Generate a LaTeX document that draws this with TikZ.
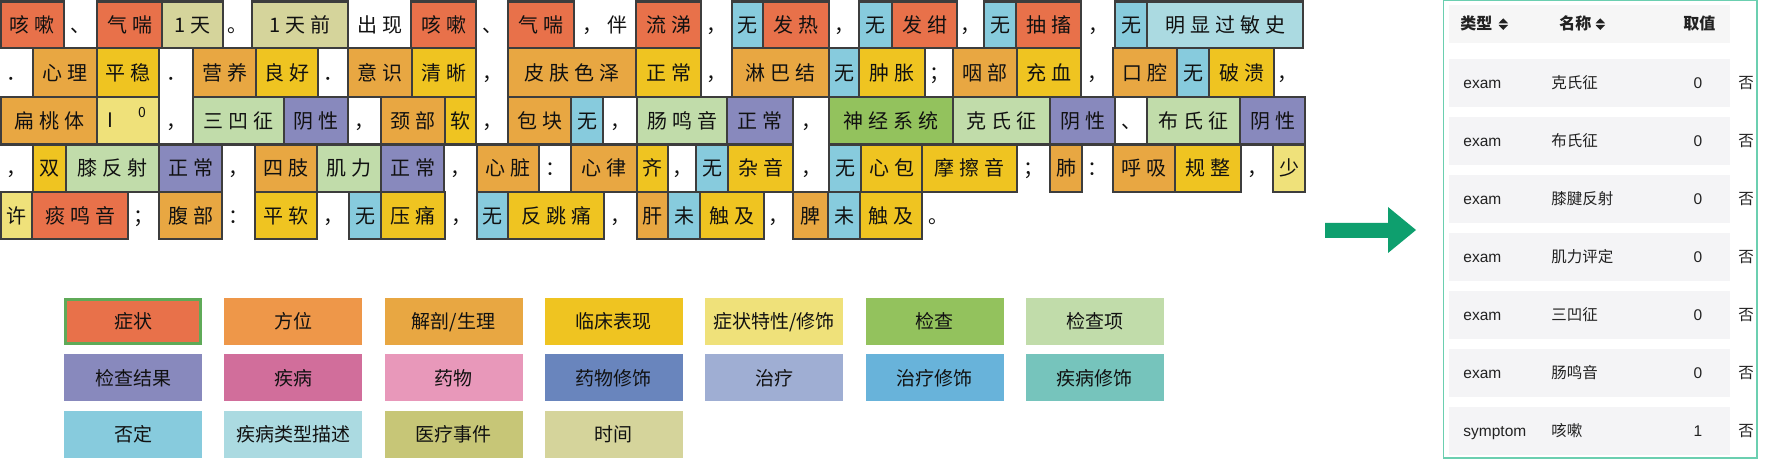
\documentclass[tikz,border=0pt]{standalone}
\usepackage{fontspec}
\setmainfont{Noto Sans CJK SC}
\newfontfamily\latinf{Liberation Sans}
\definecolor{sym}{HTML}{E8714A}
\definecolor{fw}{HTML}{EE9749}
\definecolor{jp}{HTML}{E8A742}
\definecolor{lc}{HTML}{EFC421}
\definecolor{tx}{HTML}{EFE17A}
\definecolor{jc}{HTML}{93C25D}
\definecolor{jcx}{HTML}{C1DCAA}
\definecolor{jg}{HTML}{8889BD}
\definecolor{jb}{HTML}{D16E9B}
\definecolor{yw}{HTML}{E898BA}
\definecolor{ywx}{HTML}{6985BD}
\definecolor{zl}{HTML}{9FAED3}
\definecolor{zlx}{HTML}{68B3DA}
\definecolor{jbx}{HTML}{76C4BC}
\definecolor{fd}{HTML}{87CBDD}
\definecolor{lx}{HTML}{ABDAE1}
\definecolor{sjj}{HTML}{C7C677}
\definecolor{sj}{HTML}{D5D49B}
\definecolor{bordc}{HTML}{3D3D3D}
\definecolor{txt}{HTML}{111111}
\definecolor{legg}{HTML}{5FAA58}
\definecolor{panelc}{HTML}{6BCFB0}
\definecolor{rowg}{HTML}{F4F4F6}
\definecolor{headg}{HTML}{F6F6F6}
\definecolor{arrowg}{HTML}{0E9F6E}
\definecolor{ptxt}{HTML}{222222}
\newcounter{cellc}
\newlength\charsp
\setlength\charsp{2.5pt}
\ExplSyntaxOn
\NewDocumentCommand\spacedtext{m}{\tl_map_inline:nn{#1}{##1\kern\charsp}\unkern}
\ExplSyntaxOff
\def\rtA{1.5}\def\rbA{48}
\def\rtB{48}\def\rbB{97}
\def\rtC{97}\def\rbC{144.5}
\def\rtD{144.5}\def\rbD{192}
\def\rtE{192}\def\rbE{239}
\tikzset{
  tokfont/.style={font=\fontsize{10pt}{12pt}\selectfont, text=txt, text height=8.4pt, text depth=0.8pt, inner sep=0pt},
  tagbox/.style={tokfont, rectangle, draw=bordc, line width=1.15pt},
  legbox/.style={rectangle, font=\fontsize{9.5pt}{11pt}\selectfont, text=txt, text height=8pt, text depth=0.8pt, inner sep=0pt, minimum width=69pt, minimum height=23.5pt},
  rowbg/.style={rectangle, fill=rowg, inner sep=0pt, minimum width=140.5pt},
  ptext/.style={font=\fontsize{7.75pt}{9pt}\selectfont, text=ptxt, inner sep=0pt, anchor=base},
  phead/.style={font=\fontsize{8pt}{9pt}\selectfont\bfseries, text=ptxt, inner sep=0pt, anchor=base west},
}
\newcommand\tagcell[5]{%
  \stepcounter{cellc}%
  \node[tagbox, fill=#4, minimum width={(#3-#2)*0.5pt}, minimum height={(\csname rb#1\endcsname-\csname rt#1\endcsname)*0.5pt}] (c\arabic{cellc}) at ({(#2+#3)/2},{(\csname rt#1\endcsname+\csname rb#1\endcsname)/2}) {\spacedtext{#5}};}
\newcommand\plaincell[4]{%
  \stepcounter{cellc}%
  \node[tokfont] (p\arabic{cellc}) at ({(#2+#3)/2},{(\csname rt#1\endcsname+\csname rb#1\endcsname)/2}) {\spacedtext{#4}};}
\newcommand\legitem[4]{%
  \stepcounter{cellc}%
  \node[legbox, fill=#3] (l\arabic{cellc}) at ({133+(#1-1)*160.3},{321.5+(#2-1)*56.5}) {#4};}
\newcommand\prow[5]{%
  \stepcounter{cellc}%
  \node[rowbg, minimum height={(#2-#1)*0.5pt}] (rb\arabic{cellc}) at (1589.5,{(#1+#2)/2}) {};
  \node[ptext, anchor=base west] (ra\arabic{cellc}) at (1463,{(#1+#2)/2+5.9}) {\latinf #3};
  \node[ptext, anchor=base west] (rn\arabic{cellc}) at (1551,{(#1+#2)/2+5.9}) {#4};
  \node[ptext] (rv\arabic{cellc}) at (1698,{(#1+#2)/2+5.9}) {\latinf #5};
  \node[ptext] (rf\arabic{cellc}) at (1746,{(#1+#2)/2+5.9}) {否};}
\begin{document}
\begin{tikzpicture}[x=0.5pt, y=-0.5pt]
\useasboundingbox (0,0) rectangle (1771,459);
\fill[white] (0,0) rectangle (1771,459);
% ---- row A
\tagcell{A}{1}{64}{sym}{咳嗽}
\plaincell{A}{64}{97}{、}
\tagcell{A}{97}{162}{sym}{气喘}
\tagcell{A}{162}{223}{sj}{1天}
\plaincell{A}{223}{252}{。}
\tagcell{A}{252}{348}{sj}{1天前}
\plaincell{A}{348}{411}{出现}
\tagcell{A}{411}{476}{sym}{咳嗽}
\plaincell{A}{476}{508}{、}
\tagcell{A}{508}{574}{sym}{气喘}
\plaincell{A}{574}{636}{，伴}
\tagcell{A}{636}{701}{sym}{流涕}
\plaincell{A}{701}{732}{，}
\tagcell{A}{732}{763}{fd}{无}
\tagcell{A}{763}{829}{sym}{发热}
\plaincell{A}{829}{859}{，}
\tagcell{A}{859}{892}{fd}{无}
\tagcell{A}{892}{957}{sym}{发绀}
\plaincell{A}{957}{984}{，}
\tagcell{A}{984}{1016}{fd}{无}
\tagcell{A}{1016}{1081}{sym}{抽搐}
\plaincell{A}{1081}{1115}{，}
\tagcell{A}{1115}{1147}{fd}{无}
\tagcell{A}{1147}{1303}{lx}{明显过敏史}
% ---- row B
\plaincell{B}{0}{33}{．}
\tagcell{B}{33}{97}{jp}{心理}
\tagcell{B}{97}{159}{lc}{平稳}
\plaincell{B}{159}{193}{．}
\tagcell{B}{193}{256}{jp}{营养}
\tagcell{B}{256}{318}{lc}{良好}
\plaincell{B}{318}{348}{．}
\tagcell{B}{348}{412}{jp}{意识}
\tagcell{B}{412}{476}{lc}{清晰}
\plaincell{B}{476}{508}{，}
\tagcell{B}{508}{636}{jp}{皮肤色泽}
\tagcell{B}{636}{701}{lc}{正常}
\plaincell{B}{701}{732}{，}
\tagcell{B}{732}{829}{jp}{淋巴结}
\tagcell{B}{829}{859}{fd}{无}
\tagcell{B}{859}{925}{lc}{肿胀}
\plaincell{B}{925}{953}{；}
\tagcell{B}{953}{1017}{jp}{咽部}
\tagcell{B}{1017}{1081}{lc}{充血}
\plaincell{B}{1081}{1113}{，}
\tagcell{B}{1113}{1177}{jp}{口腔}
\tagcell{B}{1177}{1209}{fd}{无}
\tagcell{B}{1209}{1274}{lc}{破溃}
\plaincell{B}{1274}{1300}{，}
% ---- row C
\tagcell{C}{1}{97}{jp}{扁桃体}
\tagcell{C}{97}{159}{tx}{}
\node[tokfont, anchor=base] (roman1) at (110.5,127.5) {I};
\node[font=\fontsize{7pt}{8pt}\selectfont, text=txt, inner sep=0pt, anchor=base] (sup0) at (142,118) {0};
\plaincell{C}{159}{193}{，}
\tagcell{C}{193}{284}{jcx}{三凹征}
\tagcell{C}{284}{348}{jg}{阴性}
\plaincell{C}{348}{381}{，}
\tagcell{C}{381}{445}{jp}{颈部}
\tagcell{C}{445}{476}{lc}{软}
\plaincell{C}{476}{508}{，}
\tagcell{C}{508}{571}{jp}{包块}
\tagcell{C}{571}{603}{fd}{无}
\plaincell{C}{603}{637}{，}
\tagcell{C}{637}{727}{jcx}{肠鸣音}
\tagcell{C}{727}{793}{jg}{正常}
\plaincell{C}{793}{829}{，}
\tagcell{C}{829}{953}{jc}{神经系统}
\tagcell{C}{953}{1050}{jcx}{克氏征}
\tagcell{C}{1050}{1115}{jg}{阴性}
\plaincell{C}{1115}{1147}{、}
\tagcell{C}{1147}{1240}{jcx}{布氏征}
\tagcell{C}{1240}{1305}{jg}{阴性}
% ---- row D
\plaincell{D}{0}{33}{，}
\tagcell{D}{33}{66}{lc}{双}
\tagcell{D}{66}{159}{jcx}{膝反射}
\tagcell{D}{159}{222}{jg}{正常}
\plaincell{D}{222}{255}{，}
\tagcell{D}{255}{317}{jp}{四肢}
\tagcell{D}{317}{381}{jcx}{肌力}
\tagcell{D}{381}{444}{jg}{正常}
\plaincell{D}{444}{477}{，}
\tagcell{D}{477}{539}{jp}{心脏}
\plaincell{D}{539}{571}{：}
\tagcell{D}{571}{637}{jp}{心律}
\tagcell{D}{637}{668}{lc}{齐}
\plaincell{D}{668}{696}{，}
\tagcell{D}{696}{728}{fd}{无}
\tagcell{D}{728}{793}{lc}{杂音}
\plaincell{D}{793}{829}{，}
\tagcell{D}{829}{861}{fd}{无}
\tagcell{D}{861}{922}{lc}{心包}
\tagcell{D}{922}{1017}{lc}{摩擦音}
\plaincell{D}{1017}{1050}{；}
\tagcell{D}{1050}{1082}{jp}{肺}
\plaincell{D}{1082}{1113}{：}
\tagcell{D}{1113}{1175}{jp}{呼吸}
\tagcell{D}{1175}{1241}{lc}{规整}
\plaincell{D}{1241}{1273}{，}
\tagcell{D}{1273}{1305}{tx}{少}
% ---- row E
\tagcell{E}{1}{32}{tx}{许}
\tagcell{E}{32}{128}{sym}{痰鸣音}
\plaincell{E}{128}{159}{；}
\tagcell{E}{159}{222}{jp}{腹部}
\plaincell{E}{222}{255}{：}
\tagcell{E}{255}{317}{lc}{平软}
\plaincell{E}{317}{349}{，}
\tagcell{E}{349}{381}{fd}{无}
\tagcell{E}{381}{445}{lc}{压痛}
\plaincell{E}{445}{477}{，}
\tagcell{E}{477}{508}{fd}{无}
\tagcell{E}{508}{604}{lc}{反跳痛}
\plaincell{E}{604}{637}{，}
\tagcell{E}{637}{668}{jp}{肝}
\tagcell{E}{668}{700}{fd}{未}
\tagcell{E}{700}{764}{lc}{触及}
\plaincell{E}{764}{793}{，}
\tagcell{E}{793}{828}{jp}{脾}
\tagcell{E}{828}{860}{fd}{未}
\tagcell{E}{860}{922}{lc}{触及}
\plaincell{E}{922}{954}{。}
% ---- legend
\legitem{1}{1}{sym}{症状}
\draw[legg, line width=1.5pt] (65.5,299.5) rectangle (200.5,343.5);
\legitem{2}{1}{fw}{方位}
\legitem{3}{1}{jp}{解剖/生理}
\legitem{4}{1}{lc}{临床表现}
\legitem{5}{1}{tx}{症状特性/修饰}
\legitem{6}{1}{jc}{检查}
\legitem{7}{1}{jcx}{检查项}
\legitem{1}{2}{jg}{检查结果}
\legitem{2}{2}{jb}{疾病}
\legitem{3}{2}{yw}{药物}
\legitem{4}{2}{ywx}{药物修饰}
\legitem{5}{2}{zl}{治疗}
\legitem{6}{2}{zlx}{治疗修饰}
\legitem{7}{2}{jbx}{疾病修饰}
\legitem{1}{3}{fd}{否定}
\legitem{2}{3}{lx}{疾病类型描述}
\legitem{3}{3}{sjj}{医疗事件}
\legitem{4}{3}{sj}{时间}
% ---- arrow
\fill[arrowg] (1325,223) -- (1388,223) -- (1388,207) -- (1416,230) -- (1388,253) -- (1388,238) -- (1325,238) -- cycle;
% ---- panel
\draw[panelc, line width=0.6pt] (1443.5,0.8) rectangle (1757,458);
\node[rowbg, fill=headg, minimum height=19pt] (hbg) at (1589.5,24) {};
\node[phead] (h1) at (1460,29.9) {类型};
\fill[ptxt] (1498.5,23.3) -- (1508,23.3) -- (1503.25,18.3) -- cycle;
\fill[ptxt] (1498.5,25) -- (1508,25) -- (1503.25,30) -- cycle;
\node[phead] (h2) at (1559,29.9) {名称};
\fill[ptxt] (1595.5,23.3) -- (1605,23.3) -- (1600.25,18.3) -- cycle;
\fill[ptxt] (1595.5,25) -- (1605,25) -- (1600.25,30) -- cycle;
\node[phead] (h3) at (1683,29.9) {取值};
\prow{59}{107}{exam}{克氏征}{0}
\prow{117}{165}{exam}{布氏征}{0}
\prow{175}{223}{exam}{膝腱反射}{0}
\prow{233}{281}{exam}{肌力评定}{0}
\prow{291}{339}{exam}{三凹征}{0}
\prow{349}{397}{exam}{肠鸣音}{0}
\prow{407}{455}{symptom}{咳嗽}{1}
\end{tikzpicture}
\end{document}
